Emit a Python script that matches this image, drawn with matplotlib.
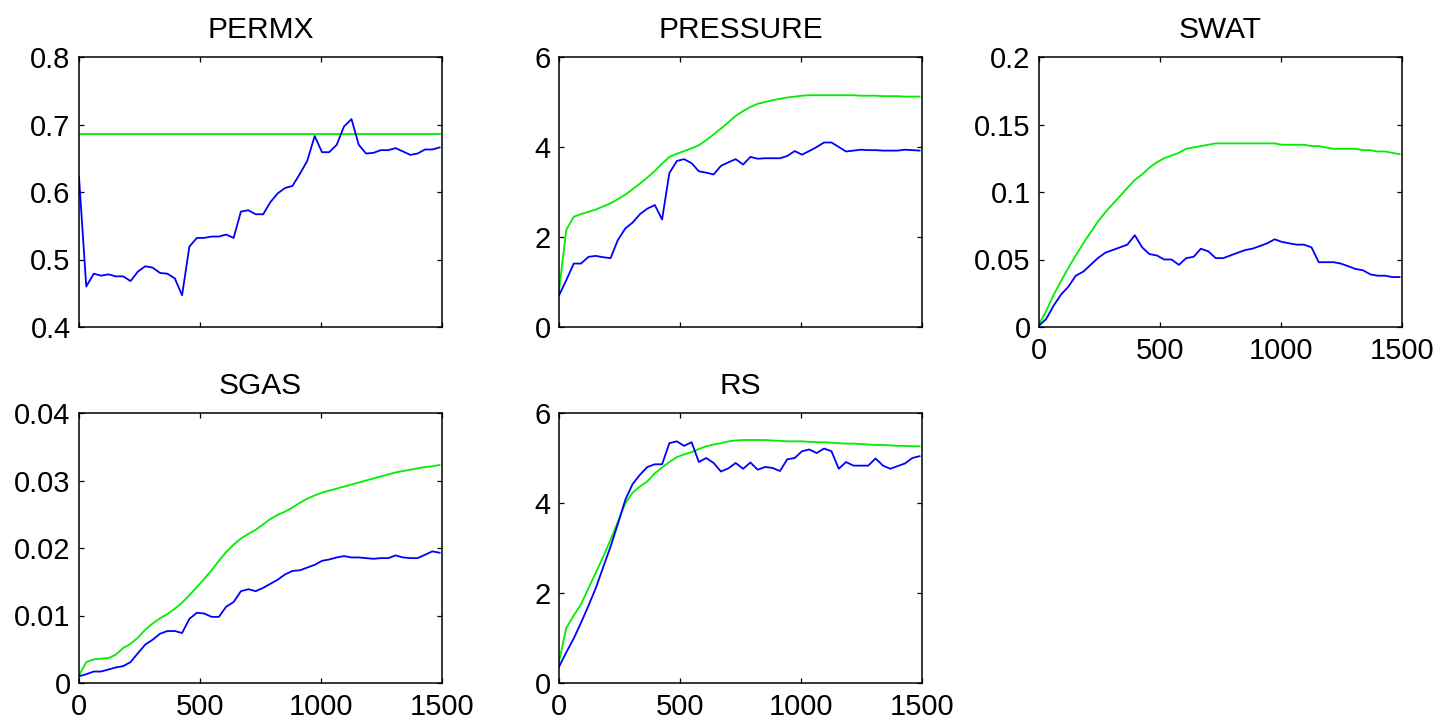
import matplotlib
matplotlib.use('Agg')
import matplotlib.pyplot as plt
from matplotlib.ticker import FuncFormatter

# report times (days)
days = [0, 30, 61, 91, 122, 152, 183, 213, 243, 274,
        304, 335, 365, 396, 426, 456, 487, 517, 548, 578,
        608, 639, 669, 700, 730, 761, 791, 821, 852, 882,
        913, 943, 974, 1004, 1034, 1065, 1095, 1126, 1156, 1186,
        1217, 1247, 1278, 1308, 1339, 1369, 1399, 1430, 1460, 1490]

# PERMX
permx_est = [0.622, 0.460, 0.479, 0.476, 0.478, 0.475, 0.475, 0.468, 0.482, 0.490,
             0.488, 0.480, 0.479, 0.472, 0.447, 0.519, 0.532, 0.532, 0.534, 0.534,
             0.537, 0.532, 0.571, 0.573, 0.567, 0.567, 0.585, 0.598, 0.606, 0.609,
             0.627, 0.646, 0.683, 0.659, 0.659, 0.670, 0.697, 0.708, 0.670, 0.657,
             0.658, 0.662, 0.662, 0.665, 0.660, 0.655, 0.657, 0.663, 0.663, 0.666]
permx_true = 0.686

# PRESSURE
pres_true = [0.80, 2.16, 2.45, 2.51, 2.56, 2.61, 2.68, 2.75, 2.84, 2.94,
             3.06, 3.19, 3.32, 3.47, 3.63, 3.78, 3.85, 3.91, 3.97, 4.04,
             4.15, 4.28, 4.41, 4.55, 4.69, 4.80, 4.89, 4.96, 5.00, 5.04,
             5.07, 5.10, 5.12, 5.14, 5.15, 5.15, 5.15, 5.15, 5.15, 5.15,
             5.15, 5.14, 5.14, 5.14, 5.13, 5.13, 5.13, 5.12, 5.12, 5.12]
pres_est = [0.70, 1.04, 1.41, 1.41, 1.56, 1.58, 1.55, 1.53, 1.93, 2.19,
            2.32, 2.51, 2.63, 2.71, 2.39, 3.42, 3.69, 3.73, 3.64, 3.46,
            3.43, 3.39, 3.58, 3.66, 3.73, 3.61, 3.78, 3.74, 3.75, 3.75,
            3.75, 3.80, 3.91, 3.83, 3.91, 4.00, 4.10, 4.10, 4.00, 3.90,
            3.92, 3.94, 3.93, 3.93, 3.92, 3.92, 3.92, 3.94, 3.93, 3.92]

# SWAT
swat_true = [0.002, 0.012, 0.024, 0.034, 0.044, 0.053, 0.062, 0.070, 0.078, 0.085,
             0.091, 0.097, 0.103, 0.109, 0.113, 0.118, 0.122, 0.125, 0.127, 0.129,
             0.132, 0.133, 0.134, 0.135, 0.136, 0.136, 0.136, 0.136, 0.136, 0.136,
             0.136, 0.136, 0.136, 0.135, 0.135, 0.135, 0.135, 0.134, 0.134, 0.133,
             0.132, 0.132, 0.132, 0.132, 0.131, 0.131, 0.130, 0.130, 0.129, 0.128]
swat_est = [0.001, 0.006, 0.016, 0.024, 0.030, 0.038, 0.041, 0.046, 0.051, 0.055,
            0.057, 0.059, 0.061, 0.068, 0.059, 0.054, 0.053, 0.050, 0.050, 0.046,
            0.051, 0.052, 0.058, 0.056, 0.051, 0.051, 0.053, 0.055, 0.057, 0.058,
            0.060, 0.062, 0.065, 0.063, 0.062, 0.061, 0.061, 0.059, 0.048, 0.048,
            0.048, 0.047, 0.045, 0.043, 0.042, 0.039, 0.038, 0.038, 0.037, 0.037]

# SGAS
sgas_true = [0.0011, 0.0031, 0.0035, 0.0036, 0.0037, 0.0042, 0.0052, 0.0058, 0.0067, 0.0079,
             0.0088, 0.0096, 0.0102, 0.0110, 0.0119, 0.0130, 0.0142, 0.0154, 0.0167, 0.0181,
             0.0194, 0.0205, 0.0214, 0.0221, 0.0227, 0.0235, 0.0243, 0.0249, 0.0254, 0.0260,
             0.0267, 0.0273, 0.0278, 0.0282, 0.0285, 0.0288, 0.0291, 0.0294, 0.0297, 0.0300,
             0.0303, 0.0306, 0.0309, 0.0312, 0.0314, 0.0316, 0.0318, 0.0320, 0.0321, 0.0323]
sgas_est = [0.0010, 0.0013, 0.0017, 0.0017, 0.0020, 0.0023, 0.0025, 0.0031, 0.0044, 0.0057,
            0.0064, 0.0073, 0.0077, 0.0077, 0.0074, 0.0095, 0.0104, 0.0103, 0.0098, 0.0098,
            0.0113, 0.0120, 0.0136, 0.0139, 0.0136, 0.0141, 0.0147, 0.0153, 0.0161, 0.0166,
            0.0167, 0.0171, 0.0175, 0.0181, 0.0183, 0.0186, 0.0188, 0.0186, 0.0186, 0.0185,
            0.0184, 0.0185, 0.0185, 0.0189, 0.0186, 0.0185, 0.0185, 0.0190, 0.0195, 0.0193]

# RS
rs_true = [0.47, 1.22, 1.50, 1.75, 2.11, 2.45, 2.81, 3.18, 3.58, 3.99,
           4.23, 4.37, 4.48, 4.66, 4.79, 4.91, 5.02, 5.08, 5.13, 5.20,
           5.26, 5.30, 5.33, 5.37, 5.39, 5.40, 5.40, 5.40, 5.40, 5.39,
           5.38, 5.37, 5.37, 5.37, 5.36, 5.35, 5.35, 5.34, 5.33, 5.32,
           5.32, 5.31, 5.30, 5.29, 5.29, 5.28, 5.27, 5.27, 5.26, 5.26]
rs_est = [0.36, 0.68, 0.99, 1.34, 1.72, 2.11, 2.58, 3.03, 3.53, 4.07,
          4.42, 4.63, 4.80, 4.86, 4.86, 5.33, 5.37, 5.27, 5.35, 4.91,
          5.00, 4.89, 4.70, 4.77, 4.89, 4.76, 4.90, 4.74, 4.80, 4.78,
          4.71, 4.97, 5.00, 5.15, 5.19, 5.11, 5.21, 5.15, 4.76, 4.91,
          4.83, 4.83, 4.83, 4.99, 4.83, 4.76, 4.82, 4.88, 5.00, 5.04]

panels = [
    ('PERMX', [permx_true] * len(days), permx_est, (0.4, 0.8), [0.4, 0.5, 0.6, 0.7, 0.8], False),
    ('PRESSURE', pres_true, pres_est, (0, 6), [0, 2, 4, 6], False),
    ('SWAT', swat_true, swat_est, (0, 0.2), [0, 0.05, 0.1, 0.15, 0.2], True),
    ('SGAS', sgas_true, sgas_est, (0, 0.04), [0, 0.01, 0.02, 0.03, 0.04], True),
    ('RS', rs_true, rs_est, (0, 6), [0, 2, 4, 6], True),
]

plt.rcParams['font.family'] = ['Liberation Sans', 'DejaVu Sans']

W, H = 1455, 725
fig = plt.figure(figsize=(W / 100, H / 100), dpi=100)

lefts = [79, 559, 1039]
tops = [57, 413]
aw, ah = 363, 270

fmt = FuncFormatter(lambda v, p: f'{v:g}')

for i, (name, truth, est, ylim, yticks, xlabels) in enumerate(panels):
    r, c = divmod(i, 3)
    x0 = lefts[c]
    y0 = tops[r]
    ax = fig.add_axes([x0 / W, 1 - (y0 + ah) / H, aw / W, ah / H])
    ax.plot(days, truth, color='#00ee00', lw=1.3)
    ax.plot(days, est, color='#0000ff', lw=1.3)
    ax.set_xlim(0, 1500)
    ax.set_ylim(*ylim)
    ax.set_xticks([0, 500, 1000, 1500])
    ax.set_yticks(yticks)
    ax.yaxis.set_major_formatter(fmt)
    if not xlabels:
        ax.set_xticklabels([])
    ax.tick_params(direction='in', top=True, right=True, length=3.5, width=0.9,
                   labelsize=21)
    ax.tick_params(axis='y', pad=6)
    ax.tick_params(axis='x', pad=7)
    for s in ax.spines.values():
        s.set_linewidth(1.1)
    ax.set_title(name, fontsize=21.5, pad=14)

fig.savefig('out.png', dpi=100)
